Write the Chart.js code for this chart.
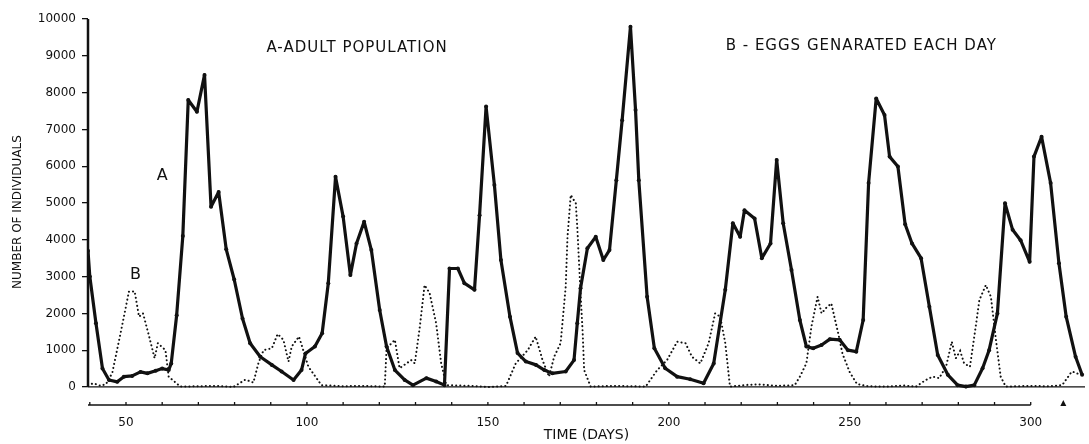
<!DOCTYPE html>
<html>
<head>
<meta charset="utf-8">
<script src="https://cdn.jsdelivr.net/npm/chart.js@4"></script>
<style>
  html, body { margin: 0; padding: 0; background: #fff; }
  #wrap { width: 1089px; height: 444px; }
</style>
</head>
<body>
<div id="wrap"><canvas id="myChart"></canvas></div>
<script>
// A - adult population (day, number of individuals)
const adultDays = [39.5, 40, 41.7, 43.5, 45.3, 47.6, 49.4, 51.7, 54, 55.9, 58.2, 60, 61.8, 62.5, 64, 65.7, 67.2, 69.6, 71.7, 73.5,
  75.6, 77.7, 79.9, 82.2, 84.3, 87.1, 90.3, 93, 96.3, 98.5, 99.6, 102.2, 104.2, 105.9, 107.9, 110, 112, 113.7, 115.8, 117.8,
  120.1, 122, 124.3, 127, 129.3, 133, 135.7, 138, 139.4, 141.7, 143.5, 146.3, 147.7, 149.5, 151.8, 153.6, 156.1, 158.2, 160.5, 163.3,
  165.6, 167.8, 171.5, 173.8, 174.7, 175.6, 177.5, 179.8, 181.9, 183.6, 185.5, 187.1, 189.4, 190.8, 191.7, 194, 196, 199, 202.3, 205.9,
  209.6, 212.4, 215.6, 217.7, 219.7, 220.9, 223.7, 225.7, 228.1, 229.8, 231.6, 233.9, 236.2, 238, 239.9, 242.2, 244.5, 247.2, 249.5, 251.8,
  253.7, 255.2, 257.3, 259.6, 261, 263.3, 265.3, 267.2, 269.7, 272, 274.3, 277.1, 279.8, 282.1, 284.4, 286.7, 288.5, 290.8, 292.9, 295,
  297.2, 299.7, 300.9, 303, 305.5, 307.8, 309.8, 312.4, 314.2];
const adultCounts = [3700, 3000, 1730, 500, 190, 140, 280, 300, 410, 370, 440, 500, 460, 640, 1950, 4100, 7800, 7480, 8480, 4900,
  5300, 3740, 2920, 1860, 1190, 820, 600, 420, 190, 460, 910, 1100, 1460, 2820, 5710, 4630, 3040, 3900, 4490, 3720,
  2090, 1100, 460, 190, 50, 240, 150, 50, 3220, 3220, 2820, 2640, 4670, 7620, 5490, 3450, 1910, 920, 690, 600,
  460, 370, 420, 730, 1730, 2680, 3770, 4080, 3450, 3720, 5620, 7250, 9790, 7530, 5620, 2450, 1050, 510, 280, 210,
  100, 640, 2640, 4450, 4080, 4800, 4580, 3500, 3900, 6170, 4450, 3180, 1820, 1100, 1050, 1140, 1300, 1280, 1000, 960,
  1820, 5540, 7840, 7390, 6260, 5990, 4420, 3900, 3500, 2180, 870, 330, 50, 10, 50, 510, 1000, 2000, 4990, 4270,
  3990, 3400, 6260, 6800, 5540, 3360, 1910, 820, 330];

// B - eggs generated each day
const eggDays = [39.5, 41, 43, 44.5, 46.2, 48.5, 50.8, 52.4, 53.6, 54.7, 56.3, 57.9, 58.8, 60.9, 61.8, 65, 70, 75, 79.7, 83,
  85.2, 86.6, 88, 90.3, 91.9, 93.5, 94.9, 95.8, 97.8, 100.4, 104, 110, 115, 121.5, 122, 124.3, 125.6, 128.8, 129.8, 131.2,
  132.5, 133.9, 135.7, 137.1, 138.5, 145, 150, 155, 157.7, 161, 163.2, 165.1, 166.9, 168.3, 170.1, 171.5, 172, 172.9, 174.3, 174.7,
  175.6, 176.2, 176.6, 178.4, 185, 193.6, 196.8, 199.5, 202.3, 204.6, 206.4, 208.7, 211, 212.8, 214.2, 215.6, 216.9, 222, 225, 230,
  234.8, 236.2, 238, 239.4, 241.1, 242.2, 243.5, 244.9, 246.8, 248, 250, 252, 255, 260, 265, 268.3, 271, 272.9, 274.7, 276.6,
  278.2, 279.3, 280.5, 281.6, 283.2, 284.8, 285.8, 287.6, 289, 290.4, 291.7, 293.1, 300, 305, 308.7, 311, 311.5, 313.8];
const eggCounts = [50, 100, 30, 80, 380, 1460, 2590, 2600, 1910, 2000, 1410, 780, 1190, 1000, 280, 10, 20, 30, 0, 200,
  120, 650, 1000, 1050, 1440, 1280, 690, 1100, 1370, 550, 50, 20, 30, 10, 1050, 1280, 510, 730, 640, 1640,
  2770, 2550, 1730, 640, 50, 30, 0, 30, 640, 1000, 1370, 730, 280, 820, 1190, 2720, 4080, 5220, 4990, 4350,
  2550, 1460, 460, 10, 30, 10, 460, 730, 1230, 1190, 820, 640, 1190, 2000, 1910, 1190, 10, 60, 70, 30,
  50, 280, 640, 1640, 2450, 2000, 2150, 2270, 1460, 900, 400, 80, 20, 10, 40, 10, 190, 280, 240, 550,
  1230, 780, 980, 640, 550, 1640, 2360, 2770, 2450, 1280, 280, 10, 30, 20, 50, 370, 420, 330];

const xTickLabels = [50, 100, 150, 200, 250, 300];
const yTickValues = [0, 1000, 2000, 3000, 4000, 5000, 6000, 7000, 8000, 9000, 10000];

const ink = '#111111';
const fontFamily = "'DejaVu Sans', sans-serif";

const toPoints = (xs, ys) => xs.map((d, i) => ({ x: d, y: ys[i] }));

// axis lines, small tick marks and the text notes of the figure
const decorations = {
  id: 'decorations',
  beforeDatasetsDraw(chart) {
    const { ctx, scales: { x, y } } = chart;
    const y0 = y.getPixelForValue(0);
    ctx.save();
    ctx.strokeStyle = ink;
    ctx.lineWidth = 1.2;
    ctx.beginPath();
    ctx.moveTo(x.left, y0);
    ctx.lineTo(x.right, y0);
    ctx.stroke();

    ctx.lineWidth = 2.5;
    ctx.beginPath();
    ctx.moveTo(x.left, y0);
    ctx.lineTo(x.left, y.getPixelForValue(10000));
    ctx.stroke();

    // time axis
    const yb = y.bottom;
    ctx.lineWidth = 1.3;
    ctx.beginPath();
    ctx.moveTo(x.left, yb);
    ctx.lineTo(x.getPixelForValue(300), yb);
    ctx.stroke();
    x.ticks.forEach(t => {
      if (t.value > 300) return;
      const px = x.getPixelForValue(t.value);
      ctx.beginPath();
      ctx.moveTo(px, yb);
      ctx.lineTo(px, yb - 3);
      ctx.stroke();
    });
    ctx.fillStyle = ink;
    const tp = x.getPixelForValue(309);
    ctx.beginPath();
    ctx.moveTo(tp - 3, yb + 1);
    ctx.lineTo(tp + 3, yb + 1);
    ctx.lineTo(tp, yb - 5);
    ctx.closePath();
    ctx.fill();
    ctx.restore();
  },
  afterDraw(chart) {
    const { ctx, scales: { x, y } } = chart;
    ctx.save();
    ctx.fillStyle = ink;
    ctx.textBaseline = 'middle';
    ctx.textAlign = 'left';
    ctx.font = '15px ' + fontFamily;
    ctx.letterSpacing = '1px';
    ctx.fillText('A-ADULT POPULATION', x.getPixelForValue(88.8), y.getPixelForValue(9200));
    ctx.fillText('B - EGGS GENARATED EACH DAY', x.getPixelForValue(215.7), y.getPixelForValue(9250));
    ctx.letterSpacing = '0px';
    ctx.font = '16px ' + fontFamily;
    ctx.fillText('A', x.getPixelForValue(58.5), y.getPixelForValue(5750));
    ctx.fillText('B', x.getPixelForValue(51.1), y.getPixelForValue(3050));
    ctx.restore();
  }
};

new Chart(document.getElementById('myChart'), {
  type: 'line',
  data: {
    datasets: [
      {
        label: 'A-Adult population',
        data: toPoints(adultDays, adultCounts),
        borderColor: ink,
        borderWidth: 3.2,
        pointRadius: 2,
        pointBackgroundColor: ink,
        pointBorderWidth: 0,
        borderJoinStyle: 'round',
        tension: 0
      },
      {
        label: 'B - Eggs generated each day',
        data: toPoints(eggDays, eggCounts),
        borderColor: ink,
        borderWidth: 2,
        borderDash: [0.1, 4],
        borderCapStyle: 'round',
        pointRadius: 0,
        tension: 0
      }
    ]
  },
  options: {
    responsive: true,
    maintainAspectRatio: false,
    animation: false,
    layout: { padding: { top: 19, right: 0, bottom: 0, left: 0 } },
    plugins: {
      legend: { display: false },
      tooltip: { enabled: false }
    },
    scales: {
      x: {
        type: 'linear',
        min: 39.5,
        max: 315,
        border: { display: false },
        grid: { display: false },
        ticks: {
          stepSize: 10,
          includeBounds: false,
          autoSkip: false,
          maxRotation: 0,
          padding: 3,
          color: ink,
          font: { family: fontFamily, size: 12 },
          callback: v => xTickLabels.includes(v) ? String(v) : ''
        },
        title: {
          display: true,
          text: 'TIME (DAYS)',
          color: ink,
          font: { family: fontFamily, size: 14 },
          padding: { top: 0, bottom: 0 }
        },
        afterFit(scale) { scale.height = 39; }
      },
      y: {
        min: -490,
        max: 10000,
        border: { display: false },
        grid: {
          display: true,
          drawOnChartArea: false,
          drawTicks: true,
          tickLength: 6,
          color: ink,
          lineWidth: 1.3
        },
        afterBuildTicks(scale) {
          scale.ticks = yTickValues.map(v => ({ value: v }));
        },
        ticks: {
          padding: 6,
          color: ink,
          font: { family: fontFamily, size: 12 },
          callback: v => String(v)
        },
        title: {
          display: true,
          text: 'NUMBER OF INDIVIDUALS',
          color: ink,
          font: { family: fontFamily, size: 12 },
          padding: { top: 11, bottom: 0 }
        },
        afterFit(scale) { scale.width = 88; }
      }
    }
  },
  plugins: [decorations]
});
</script>
</body>
</html>
